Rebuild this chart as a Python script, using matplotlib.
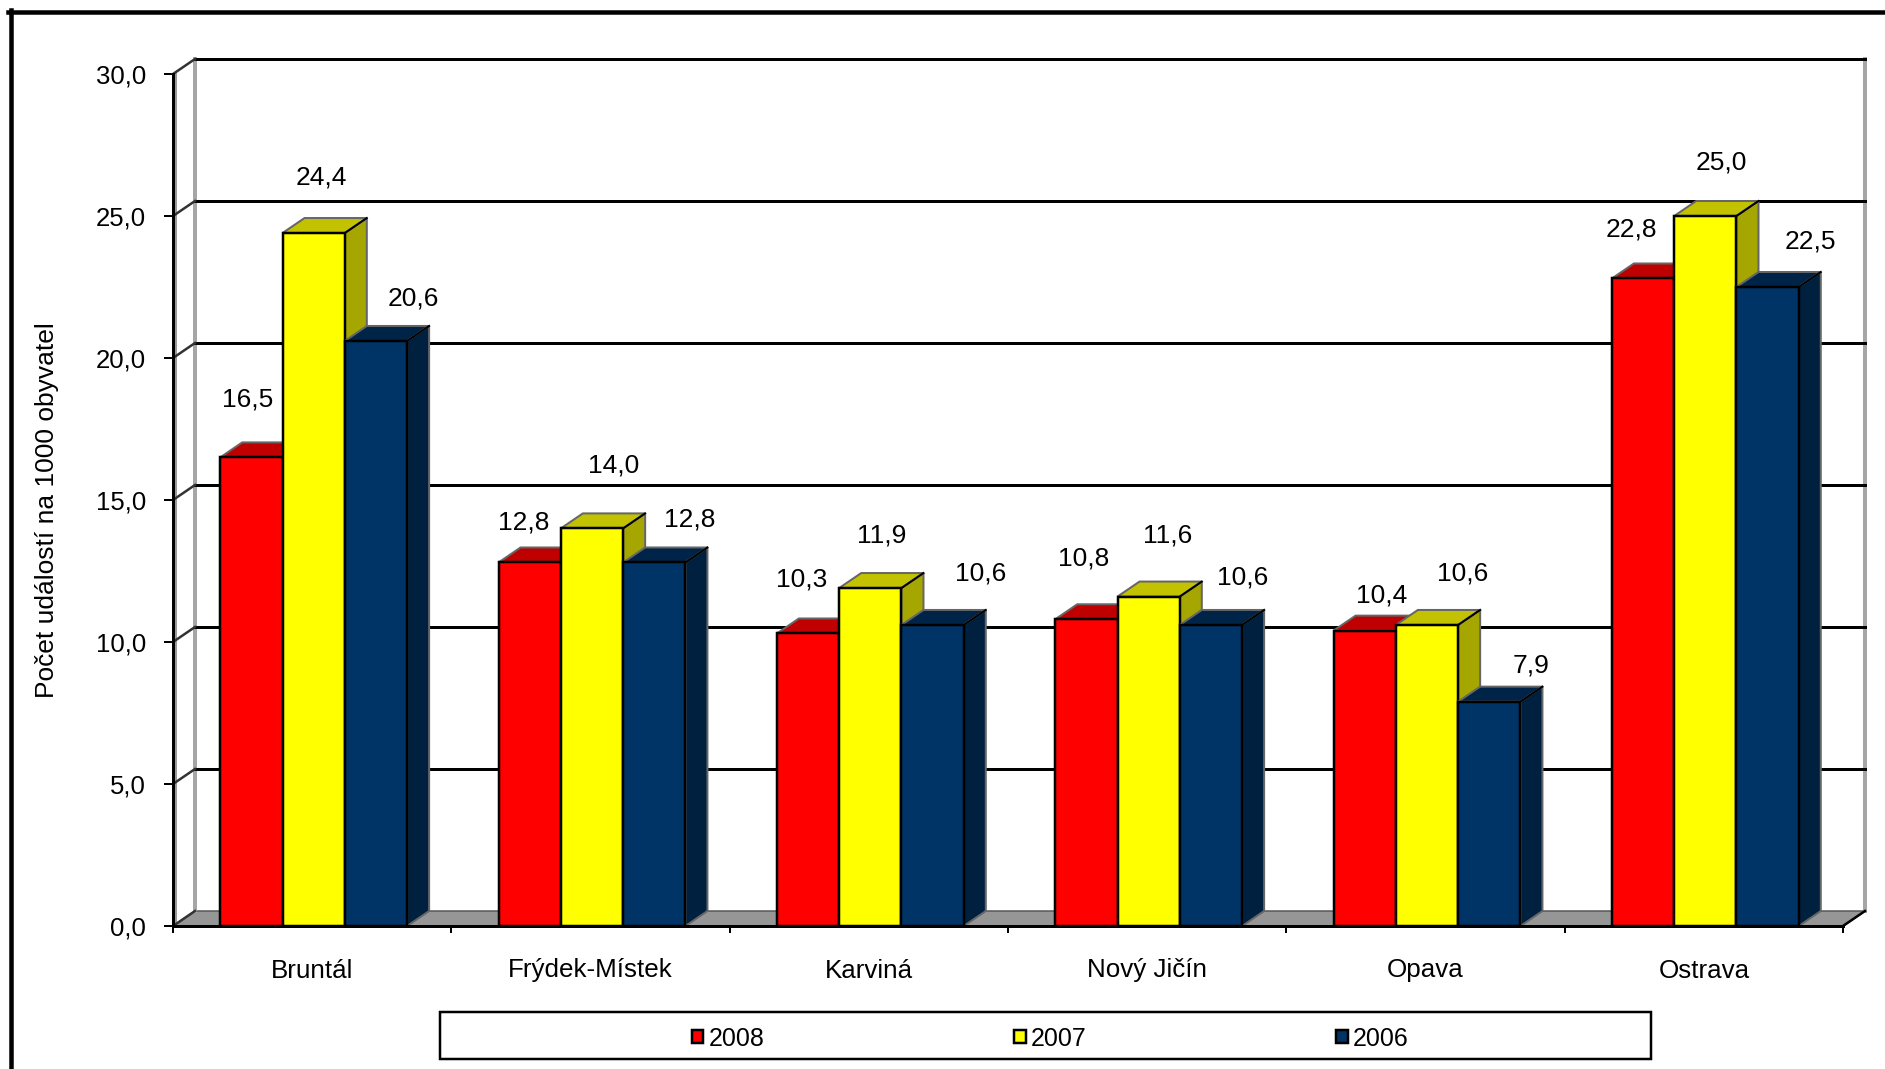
import matplotlib
matplotlib.use('Agg')
import matplotlib.pyplot as plt
from matplotlib.lines import Line2D
from matplotlib.patches import Rectangle

plt.rcParams['font.family'] = ['Liberation Sans', 'DejaVu Sans']

districts = ['Bruntál', 'Frýdek-Místek', 'Karviná', 'Nový Jičín', 'Opava', 'Ostrava']
years = ['2008', '2007', '2006']
v2008 = [16.5, 12.8, 10.3, 10.8, 10.4, 22.8]
v2007 = [24.4, 14.0, 11.9, 11.6, 10.6, 25.0]
v2006 = [20.6, 12.8, 10.6, 10.6, 7.9, 22.5]
y_ticks = [0, 5, 10, 15, 20, 25, 30]
y_title = 'Počet událostí na 1000 obyvatel'

# front, top, side colour of each series
colors = [('#FF0000', '#BF0000', '#9F0000'),
          ('#FFFF00', '#C2C200', '#A6A600'),
          ('#003366', '#002448', '#002040')]

# labels were moved by hand in the original, pixels from the top centre of the bar
label_dx = [[-3.5, -6.4, -6.9, -2.6, 17.3, -12],
            [7.5, 21.4, 11.3, 19.3, 35.6, 15.9],
            [37.8, 34.9, 47.6, 31.5, 41.8, 42.5]]
label_dy = [[58, 40.4, 53.7, 61.2, 35.2, 48.6],
            [56, 62.9, 52.7, 61.3, 51.3, 53.4],
            [42.5, 42.8, 51.3, 47.6, 36.5, 45.1]]

W, H = 1885, 1069
FS = 18.7
px = 0.72  # one pixel in points at dpi 100

fig = plt.figure(figsize=(W / 100, H / 100), dpi=100, facecolor='white')
ax = fig.add_axes([173 / W, 1 - 926 / H, (1843 - 173) / W, (926 - 74) / H])
ax.set_xlim(0, 6)
ax.set_ylim(0, 30)
ax.patch.set_visible(False)

# depth of the fake 3D box, in data units
dx = 22 / 278.33
dy = 15 / 28.4
bar_w = 62.3 / 278.33
group_shift = 1.5 / 278.33

# floor and walls
ax.fill([0, 6, 6 + dx, dx], [0, 0, dy, dy], facecolor='#969696', edgecolor='#555555',
        linewidth=1.5 * px, clip_on=False, zorder=1)
ax.plot([dx, dx], [dy, 30 + dy], color='#A6A6A6', lw=4 * px, clip_on=False, zorder=1)
ax.plot([6 + dx, 6 + dx], [dy, 30 + dy], color='#A6A6A6', lw=4 * px, clip_on=False, zorder=1)
ax.plot([0.012, 0.012], [0, 30], color='#999999', lw=2 * px, clip_on=False, zorder=1)
ax.plot([6, 6 + dx], [0, dy], color='black', lw=2.5 * px, clip_on=False, zorder=2)
for t in y_ticks:
    if t > 0:
        ax.plot([dx, 6 + dx], [t + dy, t + dy], color='black', lw=3 * px, clip_on=False, zorder=2)
    ax.plot([0, dx], [t, t + dy], color='#333333', lw=2.5 * px, clip_on=False, zorder=2)

# bars, drawn left to right so each one hides the side of the previous
series = [v2008, v2007, v2006]
handles = []
for s, values in enumerate(series):
    front, top, side = colors[s]
    xs = [i + 0.5 + group_shift + (s - 1) * bar_w for i in range(len(districts))]
    z = 3 + s
    bars = ax.bar(xs, values, width=bar_w, color=front, edgecolor='black',
                  linewidth=2.5 * px, label=years[s], zorder=z + 0.5)
    handles.append(bars)
    for i, (x, v) in enumerate(zip(xs, values)):
        l = x - bar_w / 2
        r = x + bar_w / 2
        ax.fill([l, r, r + dx, l + dx], [v, v, v + dy, v + dy], facecolor=top,
                edgecolor='#666666', linewidth=2 * px, clip_on=False, zorder=z)
        ax.fill([r, r + dx, r + dx, r], [0, dy, v + dy, v], facecolor=side,
                edgecolor='#666666', linewidth=2 * px, clip_on=False, zorder=z)
        ax.plot([r, r + dx], [v, v + dy], color='black', lw=2 * px, clip_on=False, zorder=z)
        ax.annotate(f'{v:.1f}'.replace('.', ','), xy=(x, v),
                    xytext=(label_dx[s][i], label_dy[s][i]), textcoords='offset pixels',
                    ha='center', va='center', fontsize=19, color='black',
                    annotation_clip=False, zorder=10)

# axes
for name in ['top', 'right']:
    ax.spines[name].set_visible(False)
for name in ['left', 'bottom']:
    ax.spines[name].set_linewidth(3 * px)
    ax.spines[name].set_zorder(8)
ax.set_yticks(y_ticks)
ax.set_yticklabels([f'{t:.1f}'.replace('.', ',') for t in y_ticks], fontsize=18.5)
ax.set_xticks(range(len(districts) + 1))
ax.set_xticklabels([])
ax.set_xticks([i + 0.5 for i in range(len(districts))], minor=True)
ax.set_xticklabels(districts, minor=True, fontsize=FS)
ax.tick_params(axis='y', length=9 * px, width=2 * px, pad=18 * px)
ax.tick_params(axis='x', which='major', length=7 * px, width=2 * px)
ax.tick_params(axis='x', which='minor', length=0, pad=32.5 * px)
fig.text(47 / W, 1 - 510 / H, y_title, rotation=90, ha='center', va='center', fontsize=19)

# legend box is much wider than its entries
fig.add_artist(Rectangle((440 / W, 1 - 1059 / H), (1651 - 440) / W, (1059 - 1012) / H,
                         transform=fig.transFigure, facecolor='white', edgecolor='black',
                         linewidth=2.5 * px))
leg = fig.legend(handles=handles, labels=years, loc='center', ncols=3,
                 bbox_to_anchor=(1050 / W, 1 - 1038.5 / H), frameon=False, fontsize=18,
                 handlelength=0.47, handleheight=0.47, handletextpad=0.2, columnspacing=9.98)
leg.set_zorder(5)

# outer frame only shows at the top and left
fig.add_artist(Line2D([10.5 / W, 10.5 / W], [0, 1 - 10 / H], color='black', lw=4.5 * px))
fig.add_artist(Line2D([8 / W, 1], [1 - 12 / H, 1 - 12 / H], color='black', lw=4.5 * px))

fig.savefig('out.png', dpi=100)
